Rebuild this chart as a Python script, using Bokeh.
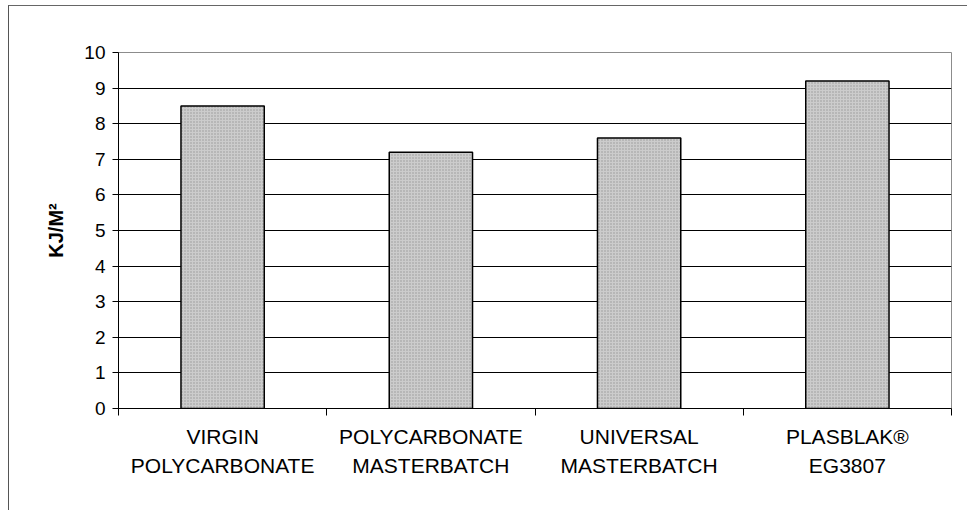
from bokeh.plotting import figure
from bokeh.models import Range1d, FixedTicker, ColumnDataSource
from bokeh.embed import file_html
from bokeh.resources import INLINE

categories = ["VIRGIN\nPOLYCARBONATE", "POLYCARBONATE\nMASTERBATCH",
              "UNIVERSAL\nMASTERBATCH", "PLASBLAK®\nEG3807"]
values = [8.5, 7.2, 7.6, 9.2]
y_ticks = list(range(0, 11))
y_label = "KJ/M²"

FONT = "Liberation Sans"

positions = [i + 0.5 for i in range(len(categories))]
src = ColumnDataSource(dict(x=positions, top=values))

p = figure(width=959, height=505, output_backend="svg", toolbar_location=None,
           x_range=Range1d(0, len(categories)), y_range=Range1d(0, 10),
           min_border_left=109, min_border_right=17, min_border_top=46,
           min_border_bottom=103)
p.margin = (5, 0, 0, 8)
p.styles = {"border-left": "1px solid #555555", "border-top": "1px solid #666666"}
p.background_fill_color = "white"
p.border_fill_color = "white"
p.outline_line_color = "#8c8c8c"
p.outline_line_width = 1

p.vbar(x="x", top="top", bottom=0, width=0.4, source=src,
       fill_color="#cccccc", line_color="black", line_width=1.5,
       hatch_pattern="dot", hatch_scale=3, hatch_color="#999999", hatch_weight=1)

# y axis
p.yaxis.ticker = FixedTicker(ticks=y_ticks, minor_ticks=[])
p.yaxis.axis_line_color = "black"
p.yaxis.major_tick_in = 0
p.yaxis.major_tick_out = 6
p.yaxis.major_tick_line_color = "black"
p.yaxis.minor_tick_line_color = None
p.yaxis.major_label_text_font = FONT
p.yaxis.major_label_text_font_size = "19px"
p.yaxis.major_label_text_color = "black"
p.yaxis.major_label_standoff = 7
p.yaxis.axis_label = y_label
p.yaxis.axis_label_text_font = FONT
p.yaxis.axis_label_text_font_style = "bold"
p.yaxis.axis_label_text_font_size = "20px"
p.yaxis.axis_label_text_color = "black"
p.yaxis.axis_label_standoff = 14

# x axis: labels at centres, tick marks at category boundaries
p.xaxis.ticker = FixedTicker(ticks=positions, minor_ticks=list(range(len(categories) + 1)))
p.xaxis.major_label_overrides = {pos: c for pos, c in zip(positions, categories)}
p.xaxis.major_tick_line_color = None
p.xaxis.minor_tick_line_color = "black"
p.xaxis.minor_tick_in = 0
p.xaxis.minor_tick_out = 7
p.xaxis.axis_line_color = "black"
p.xaxis.major_label_text_font = FONT
p.xaxis.major_label_text_font_size = "21px"
p.xaxis.major_label_text_color = "black"
p.xaxis.major_label_text_line_height = 1.27
p.xaxis.major_label_standoff = 9

p.xgrid.grid_line_color = None
p.ygrid.ticker = FixedTicker(ticks=y_ticks[1:])
p.ygrid.grid_line_color = "black"
p.ygrid.grid_line_width = 1

open("out.html", "w").write(file_html(p, INLINE))
